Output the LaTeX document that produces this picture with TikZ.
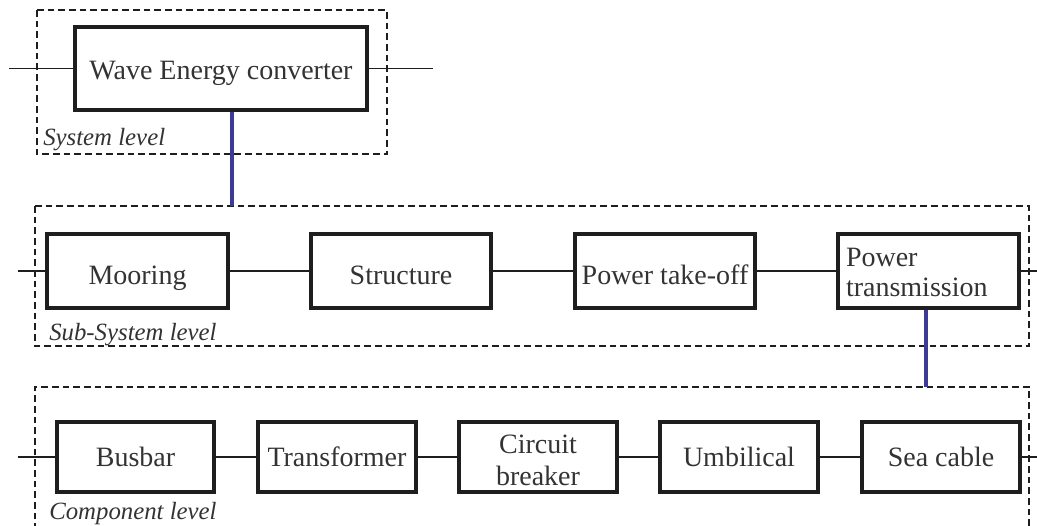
\documentclass[tikz,border=0pt]{standalone}
\usepackage{fontspec}
\setmainfont{Liberation Serif}
\definecolor{txt}{HTML}{333333}
\definecolor{linec}{HTML}{1E1E1E}
\definecolor{bluel}{HTML}{3C3C96}
\begin{document}
\begin{tikzpicture}[x=0.75pt,y=-0.75pt,
  blk/.style={draw=linec, line width=2.3pt, inner sep=0pt, text=txt, align=center,
    font=\fontsize{21}{23}\selectfont},
  wecbox/.style={blk, text height=17pt, text depth=0pt},
  subbox/.style={blk, text height=20pt, text depth=0pt},
  compbox/.style={blk, text height=13.5pt, text depth=0pt},
  lvl/.style={font=\fontsize{18.6}{20}\selectfont\itshape, text=txt, anchor=base west, inner sep=0pt},
  frame/.style={draw=linec, line width=1.1pt, dash pattern=on 5pt off 3pt},
  wire/.style={draw=linec, line width=1.1pt},
  bluewire/.style={draw=bluel, line width=2.4pt}]
\useasboundingbox (0,0) rectangle (1037,525);
\clip (0,0) rectangle (1037,525);
% frames
\draw[frame] (37,10) rectangle (387,154);
\draw[frame] (35,206) rectangle (1029,346);
\draw[frame] (35,530) -- (35,387) -- (1029,387) -- (1029,530);
% frame anchor coordinates
\coordinate (subTop) at (232,206);
\coordinate (compTop) at (926,387);
% blocks
\node[wecbox, minimum width={292*0.75pt}, minimum height={83*0.75pt}] (wec) at (221,68.5) {Wave Energy converter};
\node[subbox, minimum width={181*0.75pt}, minimum height={74*0.75pt}] (moor) at (137.5,271) {Mooring};
\node[subbox, minimum width={180*0.75pt}, minimum height={74*0.75pt}] (str) at (401,271) {Structure};
\node[subbox, minimum width={180*0.75pt}, minimum height={74*0.75pt}] (pto) at (665,271) {Power take-off};
\node[blk, minimum width={181*0.75pt}, minimum height={74*0.75pt}, align=left, text width={165*0.75pt}] (pt) at (928.5,271) {\rule{0pt}{16pt}Power\\[-0.5pt]transmission};
\node[compbox, minimum width={157*0.75pt}, minimum height={70*0.75pt}] (bus) at (135.5,457) {Busbar};
\node[compbox, minimum width={158*0.75pt}, minimum height={70*0.75pt}] (tra) at (337,457) {Transformer};
\node[blk, minimum width={158*0.75pt}, minimum height={70*0.75pt}] (cb) at (538,457) {\rule{0pt}{19pt}Circuit\\[1.5pt]breaker};
\node[compbox, minimum width={158*0.75pt}, minimum height={70*0.75pt}] (umb) at (739,457) {Umbilical};
\node[compbox, minimum width={158*0.75pt}, minimum height={70*0.75pt}] (sea) at (941,457) {Sea cable};
% level labels
\node[lvl] (l1) at (43,145) {System level};
\node[lvl] (l2) at (49,340) {Sub-System level};
\node[lvl] (l3) at (49,519) {Component level};
% stub coordinates
\coordinate (wecL) at (9,68.5);
\coordinate (wecR) at (433,68.5);
\coordinate (subL) at (18,271);
\coordinate (subR) at (1037,271);
\coordinate (compL) at (18,457);
\coordinate (compR) at (1037,457);
% connectors
\draw[wire] (wecL) -- (wec.west);
\draw[wire] (wec.east) -- (wecR);
\draw[wire] (subL) -- (moor.west);
\draw[wire] (moor.east) -- (str.west);
\draw[wire] (str.east) -- (pto.west);
\draw[wire] (pto.east) -- (pt.west);
\draw[wire] (pt.east) -- (subR);
\draw[wire] (compL) -- (bus.west);
\draw[wire] (bus.east) -- (tra.west);
\draw[wire] (tra.east) -- (cb.west);
\draw[wire] (cb.east) -- (umb.west);
\draw[wire] (umb.east) -- (sea.west);
\draw[wire] (sea.east) -- (compR);
% blue links
\draw[bluewire] (wec.south -| subTop) -- (subTop);
\draw[bluewire] (pt.south -| compTop) -- (compTop);
\end{tikzpicture}
\end{document}
